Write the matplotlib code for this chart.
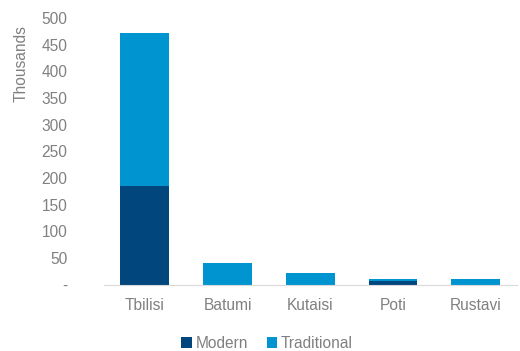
import numpy as np
import matplotlib.pyplot as plt

# city totals, in thousands
cities = ["Tbilisi", "Batumi", "Kutaisi", "Poti", "Rustavi"]
modern = [184, 0, 0, 7, 0]
traditional = [288, 41, 21, 3, 10]
yticks = [0, 50, 100, 150, 200, 250, 300, 350, 400, 450, 500]
ytick_labels = ["-", "50", "100", "150", "200", "250", "300", "350", "400", "450", "500"]

plt.rcParams['font.family'] = ['Liberation Sans', 'DejaVu Sans']
grey = "#808080"
fs = 11.2

fig = plt.figure(figsize=(5.2, 3.51), dpi=100)
ax = fig.add_axes([103.5 / 520, 1 - 284.5 / 351, (517 - 103.5) / 520, (284.5 - 18) / 351])

x = np.arange(len(cities))
ax.bar(x, modern, width=0.59, color="#02467E", label="Modern")
ax.bar(x, traditional, width=0.59, bottom=modern, color="#0094D1", label="Traditional")

ax.set_xlim(-0.5, len(cities) - 0.5)
ax.set_ylim(0, 500)
ax.set_yticks(yticks)
ax.set_yticklabels(ytick_labels)
ax.set_xticks(x)
ax.set_xticklabels(cities)
ax.tick_params(axis="both", length=0, colors=grey, labelsize=fs)
ax.tick_params(axis="y", pad=26)
ax.tick_params(axis="x", pad=10)

for s in ["top", "right", "left"]:
    ax.spines[s].set_visible(False)
ax.spines["bottom"].set_color("#D9D9D9")

ax.set_ylabel("Thousands", color=grey, fontsize=fs)
ax.yaxis.set_label_coords(-0.18, 0.83)

fig.legend(loc="center", bbox_to_anchor=(267 / 520, 1 - 343 / 351), ncol=2, frameon=False,
           fontsize=fs, labelcolor=grey, handlelength=0.7, handleheight=0.7,
           handletextpad=0.2, columnspacing=1.2)

fig.savefig("out.png", dpi=100)
